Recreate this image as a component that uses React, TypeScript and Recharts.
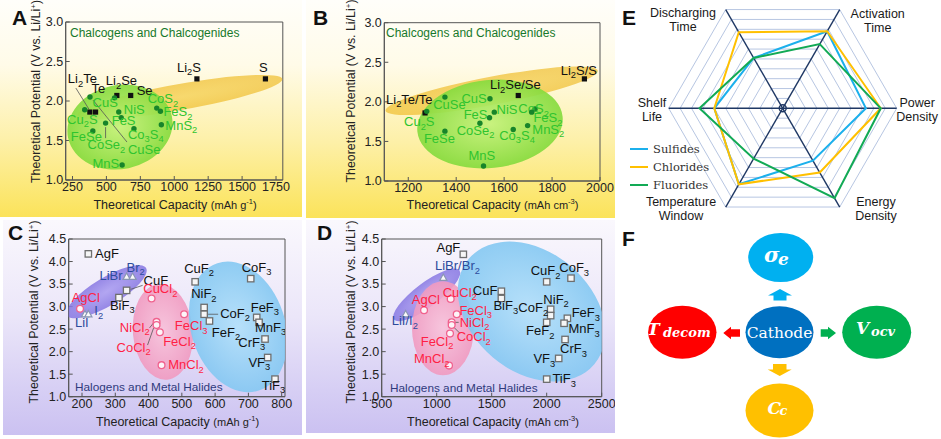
import {
  ScatterChart, Scatter, XAxis, YAxis, ReferenceArea,
  RadarChart, Radar, PolarGrid, PolarAngleAxis, PolarRadiusAxis, Legend,
} from 'recharts'

const SANS = '"Liberation Sans", Arial, sans-serif'
const SERIF = '"DejaVu Serif", serif'

type Pt = { name: string; x: number; y: number }
type Anchor = 'start' | 'middle' | 'end'
type LabelPos = Record<string, [number, number, Anchor?]>
type Leaders = Record<string, [number, number, number, number]>

// ---------- A: chalcogens, gravimetric ----------
const aLithium: Pt[] = [
  { name: 'Li2Te', x: 378, y: 1.86 }, { name: 'Te', x: 420, y: 1.86 },
  { name: 'Li2Se', x: 577, y: 2.07 }, { name: 'Se', x: 679, y: 2.07 },
  { name: 'Li2S', x: 1167, y: 2.28 }, { name: 'S', x: 1672, y: 2.28 },
]
const aSulfides: Pt[] = [
  { name: 'CuSe', x: 379, y: 2.05 }, { name: 'Cu2S', x: 340, y: 1.89 },
  { name: 'CuS', x: 560, y: 2.04 }, { name: 'NiS', x: 591, y: 1.86 },
  { name: 'FeS', x: 609, y: 1.79 }, { name: 'CoSe2', x: 494, y: 1.72 },
  { name: 'FeSe', x: 400, y: 1.62 }, { name: 'Co3S4', x: 703, y: 1.65 },
  { name: 'CoS2', x: 871, y: 1.91 }, { name: 'FeS2', x: 898, y: 1.87 },
  { name: 'MnS2', x: 905, y: 1.7 }, { name: 'MnS', x: 616, y: 1.19 },
]
const aTicks = [250, 500, 750, 1000, 1250, 1500, 1750]
const potTicksLow = [1, 1.5, 2, 2.5, 3]

// ---------- B: chalcogens, volumetric ----------
const bLithium: Pt[] = [
  { name: 'Li2Te/Te', x: 1270, y: 1.86 },
  { name: 'Li2Se/Se', x: 1659, y: 2.08 },
  { name: 'Li2S/S', x: 1935, y: 2.29 },
]
const bSulfides: Pt[] = [
  { name: 'Cu2S', x: 1277, y: 1.88 }, { name: 'CuSe', x: 1353, y: 2.06 },
  { name: 'FeSe', x: 1353, y: 1.63 }, { name: 'CuS', x: 1541, y: 2.04 },
  { name: 'FeS', x: 1539, y: 1.8 }, { name: 'NiS', x: 1559, y: 1.87 },
  { name: 'CoSe2', x: 1499, y: 1.73 }, { name: 'MnS', x: 1514, y: 1.19 },
  { name: 'Co3S4', x: 1638, y: 1.65 }, { name: 'CoS2', x: 1729, y: 1.91 },
  { name: 'FeS2', x: 1715, y: 1.87 }, { name: 'MnS2', x: 1698, y: 1.7 },
]
const bTicks = [1200, 1400, 1600, 1800, 2000]

// ---------- C: halides, gravimetric ----------
const cFluorides: Pt[] = [
  { name: 'AgF', x: 219, y: 4.17 }, { name: 'CuF', x: 334, y: 3.36 },
  { name: 'BiF3', x: 311, y: 3.2 }, { name: 'CuF2', x: 540, y: 3.55 },
  { name: 'NiF2', x: 567, y: 2.98 }, { name: 'CoF2', x: 567, y: 2.83 },
  { name: 'FeF2', x: 583, y: 2.68 }, { name: 'CoF3', x: 707, y: 3.62 },
  { name: 'FeF3', x: 725, y: 2.76 }, { name: 'MnF3', x: 732, y: 2.65 },
  { name: 'CrF3', x: 750, y: 2.28 }, { name: 'VF3', x: 758, y: 1.87 },
  { name: 'TiF3', x: 780, y: 1.39 },
]
const cHalogens: Pt[] = [
  { name: 'LiBr', x: 334, y: 3.66 }, { name: 'Br2', x: 352, y: 3.66 },
  { name: 'LiI', x: 209, y: 2.83 }, { name: 'I2', x: 219, y: 2.83 },
]
const cChlorides: Pt[] = [
  { name: 'AgCl', x: 194, y: 2.95 }, { name: 'CuCl2', x: 409, y: 3.18 },
  { name: 'NiCl2', x: 424, y: 2.66 }, { name: 'CoCl2', x: 424, y: 2.59 },
  { name: 'FeCl2', x: 434, y: 2.43 }, { name: 'FeCl3', x: 507, y: 2.83 },
  { name: 'MnCl2', x: 439, y: 1.7 },
]
const cTicks = [200, 300, 400, 500, 600, 700, 800]
const potTicksHigh = [1, 1.5, 2, 2.5, 3, 3.5, 4, 4.5]

// ---------- D: halides, volumetric ----------
const dFluorides: Pt[] = [
  { name: 'AgF', x: 1242, y: 4.16 }, { name: 'CuF', x: 1588, y: 3.34 },
  { name: 'BiF3', x: 1588, y: 3.18 }, { name: 'CuF2', x: 2000, y: 3.55 },
  { name: 'CoF3', x: 2221, y: 3.63 }, { name: 'NiF2', x: 2036, y: 2.94 },
  { name: 'CoF2', x: 2036, y: 2.8 }, { name: 'FeF2', x: 2000, y: 2.65 },
  { name: 'FeF3', x: 2188, y: 2.74 }, { name: 'MnF3', x: 2158, y: 2.63 },
  { name: 'CrF3', x: 2167, y: 2.27 }, { name: 'VF3', x: 2109, y: 1.85 },
  { name: 'TiF3', x: 2000, y: 1.39 },
]
const dHalogens: Pt[] = [
  { name: 'LiBr/Br2', x: 1060, y: 3.64 }, { name: 'LiI/I2', x: 718, y: 2.83 },
]
const dChlorides: Pt[] = [
  { name: 'AgCl', x: 885, y: 2.92 }, { name: 'CuCl2', x: 1127, y: 3.17 },
  { name: 'FeCl3', x: 1182, y: 2.83 }, { name: 'NiCl2', x: 1136, y: 2.65 },
  { name: 'CoCl2', x: 1136, y: 2.59 }, { name: 'FeCl2', x: 1121, y: 2.4 },
  { name: 'MnCl2', x: 1112, y: 1.69 },
]
const dTicks = [500, 1000, 1500, 2000, 2500]

// ---------- E: radar ----------
const radarAxes = ['Activation Time', 'Power Density', 'Energy Density', 'Temperature Window', 'Shelf Life', 'Discharging Time']
const sulfideScores = [7.8, 7.3, 5.3, 7.7, 6.0, 5.1]
const chlorideScores = [7.8, 8.6, 6.5, 7.7, 6.0, 7.7]
const fluorideScores = [6.5, 8.6, 9.1, 5.1, 7.3, 5.1]

const radarData = radarAxes.map((axis, i) => ({
  axis, sulfides: sulfideScores[i], chlorides: chlorideScores[i], fluorides: fluorideScores[i],
}))

// label placement (px offsets from the point)
const aLabels: LabelPos = {
  Li2Te: [-22, -29], Te: [-4, -19], Li2Se: [-11, -10], Se: [6, 0], Li2S: [-8, -7, 'middle'], S: [-2, -7, 'middle'],
  CuS: [-22, 9], Cu2S: [-17.6, 14], NiS: [5, 2], FeS: [-9.5, 7.4], FeSe: [-22, 10], CoSe2: [-18, 26],
  CuSe: [38, 57], Co3S4: [-6, 10], CoS2: [-9, -5], FeS2: [3, 5], MnS2: [4, 5], MnS: [-3, 3, 'end'],
}
const aLeaders: Leaders = { CuSe: [37, 45, 3, 3], CoSe2: [0, 4, 0, 15], Li2Te: [-14, -24, -1, -3] }
const bLabels: LabelPos = {
  'Li2Te/Te': [-39, -9.3], 'Li2Se/Se': [-28.3, -6.3], 'Li2S/S': [-23.7, -4],
  Cu2S: [-22.7, 15], CuSe: [-11.7, 12], FeSe: [-21, 12.3], CuS: [-3.3, 4, 'end'], FeS: [-2, 1, 'end'],
  NiS: [2.3, 1.7], CoSe2: [-23.3, 11.7], MnS: [-15, -6.3], Co3S4: [-14, 10], CoS2: [-16.7, 4.3],
  FeS2: [1.7, 10.3], MnS2: [4.7, 8.3],
}
const cLabels: LabelPos = {
  AgF: [6.7, 4.3], CuF: [17, -5.3], BiF3: [-9, 12.3], CuF2: [-11, -9.3], CoF3: [-9, -6.7], NiF2: [-13, -9],
  CoF2: [16, 3.3], FeF2: [2.3, 15.7], FeF3: [-6, -5.7], MnF3: [-4, 9.3], CrF3: [-26.7, 7.7], VF3: [-19.3, 9.3],
  TiF3: [-13.3, 10.7],
  LiBr: [-4, 3, 'end'], Br2: [-6, -5.3], LiI: [-10, 12.7], I2: [6, 1],
  AgCl: [-8.3, -6.7], CuCl2: [-8.3, -5], NiCl2: [-36.7, 10], CoCl2: [-40, 26.7], FeCl2: [3.3, 13.3],
  FeCl3: [-9.3, 16], MnCl2: [6.7, 4],
}
const cLeaders: Leaders = { CuF: [4, -1, 16, -5], NiCl2: [-7, 6, -3, 1], CoCl2: [-9, 20, -3, 3], CoF2: [4, 0, 14, 0] }
const dLabels: LabelPos = {
  AgF: [-3, -2.7, 'end'], CuF: [-4, 4, 'end'], BiF3: [-8, 11.7], CuF2: [-16, -6.7], CoF3: [-11.7, -6],
  NiF2: [-7.3, -5.7], CoF2: [-32.3, -3.3], FeF2: [-20.7, 12.7], FeF3: [4.3, -1], MnF3: [4.3, 10],
  CrF3: [-5, 14], VF3: [-25.3, 5], TiF3: [5.7, 4.3],
  'LiBr/Br2': [-8.3, -7.7], 'LiI/I2': [-14, 11],
  AgCl: [-12.3, -5.7], CuCl2: [-8, -2.3], FeCl3: [2.7, 0.3], NiCl2: [8, 4.3], CoCl2: [5, 16],
  FeCl2: [-29.3, 12.3], MnCl2: [-35, -2.3],
}
const dLeaders: Leaders = { NiCl2: [3, 0, 7, 0], CoCl2: [2, 2, 8, 8] }

// chemical formula with subscript digits
function Chem({ x, y, text, fill, size = 13, anchor = 'start' }: { x: number; y: number; text: string; fill: string; size?: number; anchor?: Anchor }) {
  const parts = text.split(/(\d+)/).filter(Boolean)
  let shift = 0
  return (
    <text x={x} y={y} fill={fill} fontSize={size} textAnchor={anchor} fontFamily={SANS}>
      {parts.map((p, i) => {
        const sub = /^\d+$/.test(p)
        const target = sub ? 3.5 : 0
        const dy = target - shift
        shift = target
        return (
          <tspan key={i} dy={dy} fontSize={sub ? size * 0.72 : size}>{p}</tspan>
        )
      })}
    </text>
  )
}

type Marker = 'square' | 'dot' | 'openSquare' | 'triangle' | 'circle'

function makeShape(marker: Marker, labels: LabelPos, labelColor: string, leaders: Leaders = {}) {
  return (props: any) => {
    const { cx, cy, payload } = props
    const [dx, dy, anchor] = labels[payload.name] ?? [5, 4]
    const ld = leaders[payload.name]
    let mk
    if (marker === 'square') mk = <rect x={cx - 2.6} y={cy - 2.6} width={5.2} height={5.2} fill="#111" />
    else if (marker === 'dot') mk = <circle cx={cx} cy={cy} r={2.7} fill="#17852a" />
    else if (marker === 'openSquare') mk = <rect x={cx - 3.2} y={cy - 3.2} width={6.4} height={6.4} fill="#f6f6f6" stroke="#6e6e6e" strokeWidth={1.3} />
    else if (marker === 'triangle') mk = <polygon points={`${cx},${cy - 3.8} ${cx + 3.6},${cy + 2.6} ${cx - 3.6},${cy + 2.6}`} fill="#fafafa" stroke="#8a96b4" strokeWidth={1.2} />
    else mk = <circle cx={cx} cy={cy} r={3.4} fill="#fdf4f8" stroke="#f0628e" strokeWidth={1.3} />
    return (
      <g>
        {ld && <line x1={cx + ld[0]} y1={cy + ld[1]} x2={cx + ld[2]} y2={cy + ld[3]} stroke="#555" strokeWidth={0.8} />}
        {mk}
        <Chem x={cx + dx} y={cy + dy} text={payload.name} fill={labelColor} anchor={anchor ?? 'start'} />
      </g>
    )
  }
}

type Blob = { x: number; y: number; rx: number; ry: number; rot: number; inner: string; outer: string; opacity: number }

function blobShape(b: Blob, id: string) {
  return (props: any) => {
    const { cx, cy } = props
    return (
      <g>
        <defs>
          <radialGradient id={id}>
            <stop offset="0%" stopColor={b.inner} />
            <stop offset="100%" stopColor={b.outer} />
          </radialGradient>
        </defs>
        <ellipse cx={cx} cy={cy} rx={b.rx} ry={b.ry} fill={`url(#${id})`} opacity={b.opacity}
          transform={`rotate(${b.rot} ${cx} ${cy})`} />
      </g>
    )
  }
}

type SeriesDef = { data: Pt[]; marker: Marker; color: string; labels: LabelPos; leaders?: Leaders }

type PanelCfg = {
  id: string; left: number; top: number; w: number; h: number; bg: string
  plot: { left: number; right: number; top: number; bottom: number }
  xDomain: [number, number]; xTicks: number[]; yDomain: [number, number]; yTicks: number[]
  blobs: Blob[]; series: SeriesDef[]
}

const yellowBg = 'linear-gradient(to bottom, #fffefa 0%, #fffbe8 30%, #fdf0a8 65%, #fbe35a 100%)'
const lilacBg = 'linear-gradient(to bottom, #faf8fd 0%, #ebe6f9 45%, #d6cef4 80%, #cbc1f1 100%)'

const panels: PanelCfg[] = [
  {
    id: 'a', left: 0, top: 0, w: 302, h: 217, bg: yellowBg,
    plot: { left: 65.7, right: 282.8, top: 22, bottom: 180 },
    xDomain: [200, 1800], xTicks: aTicks, yDomain: [1, 3], yTicks: potTicksLow,
    blobs: [
      { x: 1042, y: 2.05, rx: 104, ry: 13, rot: -10, inner: '#f4cc45', outer: '#efbd2c', opacity: 0.7 },
      { x: 600, y: 1.67, rx: 53, ry: 42, rot: -12, inner: '#c4f27a', outer: '#86db3e', opacity: 0.92 },
    ],
    series: [
      { data: aLithium, marker: 'square', color: '#111', labels: aLabels, leaders: aLeaders },
      { data: aSulfides, marker: 'dot', color: '#2fc42f', labels: aLabels, leaders: aLeaders },
    ],
  },
  {
    id: 'b', left: 306, top: 0, w: 309, h: 218, bg: yellowBg,
    plot: { left: 78.3, right: 294, top: 22.7, bottom: 181 },
    xDomain: [1100, 2000], xTicks: bTicks, yDomain: [1, 3], yTicks: potTicksLow,
    blobs: [
      { x: 1548, y: 2.14, rx: 108, ry: 14, rot: -10.7, inner: '#f4cc45', outer: '#efbd2c', opacity: 0.7 },
      { x: 1541, y: 1.72, rx: 73, ry: 44, rot: -6, inner: '#c4f27a', outer: '#86db3e', opacity: 0.92 },
    ],
    series: [
      { data: bLithium, marker: 'square', color: '#111', labels: bLabels },
      { data: bSulfides, marker: 'dot', color: '#2fc42f', labels: bLabels },
    ],
  },
  {
    id: 'c', left: 3, top: 220, w: 299, h: 215, bg: lilacBg,
    plot: { left: 65.7, right: 282, top: 19, bottom: 176.7 },
    xDomain: [160, 810], xTicks: cTicks, yDomain: [1, 4.5], yTicks: potTicksHigh,
    blobs: [
      { x: 274, y: 3.33, rx: 46, ry: 14, rot: -31, inner: '#a89af0', outer: '#8676e2', opacity: 0.85 },
      { x: 443, y: 2.44, rx: 30, ry: 48, rot: -5, inner: '#f8c2da', outer: '#f19ac0', opacity: 0.9 },
      { x: 669, y: 2.55, rx: 47, ry: 67, rot: -18, inner: '#b2e0fa', outer: '#84c8f2', opacity: 0.9 },
    ],
    series: [
      { data: cFluorides, marker: 'openSquare', color: '#111', labels: cLabels, leaders: cLeaders },
      { data: cHalogens, marker: 'triangle', color: '#2d4b9c', labels: cLabels },
      { data: cChlorides, marker: 'circle', color: '#ff1f45', labels: cLabels, leaders: cLeaders },
    ],
  },
  {
    id: 'd', left: 306, top: 220, w: 309, h: 213, bg: lilacBg,
    plot: { left: 75.7, right: 295.7, top: 19, bottom: 176.7 },
    xDomain: [500, 2500], xTicks: dTicks, yDomain: [1, 4.5], yTicks: potTicksHigh,
    blobs: [
      { x: 909, y: 3.26, rx: 41, ry: 12, rot: -37, inner: '#a89af0', outer: '#8676e2', opacity: 0.85 },
      { x: 1057, y: 2.52, rx: 31, ry: 47, rot: 0, inner: '#f8c2da', outer: '#f19ac0', opacity: 0.9 },
      { x: 1862, y: 2.89, rx: 82, ry: 60, rot: 40, inner: '#b2e0fa', outer: '#84c8f2', opacity: 0.9 },
    ],
    series: [
      { data: dFluorides, marker: 'openSquare', color: '#111', labels: dLabels },
      { data: dHalogens, marker: 'triangle', color: '#2d4b9c', labels: dLabels },
      { data: dChlorides, marker: 'circle', color: '#ff1f45', labels: dLabels, leaders: dLeaders },
    ],
  },
]

const tickStyle = { fill: '#222', fontSize: 12.5, fontFamily: SANS }

function ScatterPanel({ cfg }: { cfg: PanelCfg }) {
  const { plot } = cfg
  return (
    <div style={{ position: 'absolute', left: cfg.left, top: cfg.top, width: cfg.w, height: cfg.h, background: cfg.bg }}>
      <ScatterChart width={cfg.w} height={cfg.h} margin={{ top: plot.top, right: cfg.w - plot.right, left: 0, bottom: 0 }}>
        <XAxis type="number" dataKey="x" domain={cfg.xDomain} ticks={cfg.xTicks} allowDataOverflow interval={0}
          height={cfg.h - plot.bottom} tickSize={-4} tickMargin={6.5} stroke="#555" tick={tickStyle} />
        <YAxis type="number" dataKey="y" domain={cfg.yDomain} ticks={cfg.yTicks} allowDataOverflow interval={0}
          width={plot.left} tickSize={-4} tickMargin={6.5} stroke="#555" tick={tickStyle}
          tickFormatter={(v: number) => v.toFixed(1)} />
        {cfg.blobs.map((b, i) => (
          <Scatter key={`blob-${i}`} data={[{ x: b.x, y: b.y }]} shape={blobShape(b, `${cfg.id}-g${i}`)} isAnimationActive={false} />
        ))}
        <ReferenceArea x1={cfg.xDomain[0]} x2={cfg.xDomain[1]} y1={cfg.yDomain[0]} y2={cfg.yDomain[1]}
          fill="none" fillOpacity={0} stroke="#555" strokeWidth={1} />
        {cfg.series.map((s, i) => (
          <Scatter key={`s-${i}`} data={s.data} shape={makeShape(s.marker, s.labels, s.color, s.leaders)} isAnimationActive={false} />
        ))}
      </ScatterChart>
    </div>
  )
}

const tickOffsets: Record<string, [number, number]> = {
  'Activation Time': [34, 15.4],
  'Power Density': [12.5, -1.8],
  'Energy Density': [32.3, -8],
  'Temperature Window': [-40.7, -8],
  'Shelf Life': [-8.7, -1.6],
  'Discharging Time': [-38.7, 14.7],
}

function AngleTick(props: any) {
  const { x, y, payload } = props
  const label: string = payload.value
  const [dx, dy] = tickOffsets[label] ?? [0, 0]
  const words = label.split(' ')
  return (
    <text x={x + dx} y={y + dy} textAnchor="middle" fontSize={12.5} fontFamily={SANS} fill="#1a1a1a">
      {words.map((w, i) => (
        <tspan key={i} x={x + dx} dy={i === 0 ? 0 : 14}>{w}</tspan>
      ))}
    </text>
  )
}

const radarSeries = [
  { key: 'sulfides', name: 'Sulfides', color: '#1cb0ec' },
  { key: 'chlorides', name: 'Chlorides', color: '#ffc000' },
  { key: 'fluorides', name: 'Fluorides', color: '#12aa55' },
]

function RadarLegend() {
  return (
    <svg width={90} height={60}>
      {radarSeries.map((s, i) => (
        <g key={s.key}>
          <line x1={0} x2={18} y1={6 + i * 18} y2={6 + i * 18} stroke={s.color} strokeWidth={2} />
          <text x={23} y={10 + i * 18} fontSize={11.5} fontFamily={SERIF} fill="#333">{s.name}</text>
        </g>
      ))}
    </svg>
  )
}

const rings = Array.from({ length: 10 }, (_, i) => (i + 1) * 11.4)

function RadarPanel() {
  return (
    <div style={{ position: 'absolute', left: 610, top: 0, width: 331, height: 226 }}>
      <RadarChart width={331} height={226} cx={172.7} cy={108.3} outerRadius={114} startAngle={60} endAngle={-300}
        data={radarData} margin={{ top: 0, right: 0, bottom: 0, left: 0 }}>
        <PolarGrid gridType="polygon" radialLines={false} polarRadius={rings} stroke="#b7c6e2" strokeWidth={1} />
        <PolarGrid gridType="circle" polarRadius={[3.5]} stroke="#1f3864" strokeWidth={1.4} />
        <PolarAngleAxis dataKey="axis" tick={AngleTick} tickLine={false} axisLine={false} />
        <PolarRadiusAxis domain={[0, 10]} tickCount={11} tick={false} axisLine={false} />
        {radarSeries.map((s) => (
          <Radar key={s.key} dataKey={s.key} name={s.name} stroke={s.color} strokeWidth={2} fill="none" fillOpacity={0}
            dot={false} isAnimationActive={false} />
        ))}
        <Legend content={() => <RadarLegend />} wrapperStyle={{ left: 20, top: 143, width: 90 }} />
      </RadarChart>
    </div>
  )
}

function Overlay() {
  const yTitle = (x: number, y: number) => (
    <text x={x} y={y} transform={`rotate(-90 ${x} ${y})`} textAnchor="middle" fontSize={12.4} fontFamily={SANS} fill="#222">
      Theoretical Potential (V vs. Li/Li<tspan dy={-4} fontSize={8}>+</tspan><tspan dy={4}>)</tspan>
    </text>
  )
  const xTitle = (x: number, y: number, unit: string, exp: string) => (
    <text x={x} y={y} textAnchor="middle" fontSize={12.5} fontFamily={SANS} fill="#222">
      Theoretical Capacity <tspan fontSize={11}>({unit}</tspan><tspan fontSize={7.5} dy={-5}>{exp}</tspan><tspan fontSize={11} dy={5}>)</tspan>
    </text>
  )
  const letter = (x: number, y: number, t: string) => (
    <text x={x} y={y} fontSize={21} fontWeight="bold" fontFamily={SANS} fill="#111">{t}</text>
  )
  return (
    <svg width={941} height={439} style={{ position: 'absolute', left: 0, top: 0, pointerEvents: 'none' }}>
      {letter(12, 25, 'A')}{letter(313, 25, 'B')}{letter(8, 240, 'C')}{letter(317, 240, 'D')}
      {letter(622, 25, 'E')}{letter(622, 246, 'F')}
      {yTitle(39.5, 91.5)}{yTitle(354.5, 91)}{yTitle(38, 312)}{yTitle(354.5, 312)}
      {xTitle(175, 208.5, 'mAh g', '-1')}{xTitle(492.5, 208.5, 'mAh cm', '-3')}
      {xTitle(177.5, 425.5, 'mAh g', '-1')}{xTitle(493, 425.5, 'mAh cm', '-3')}
      <text x={70} y={37.3} fontSize={12} fontFamily={SANS} fill="#17792b">Chalcogens and Chalcogenides</text>
      <text x={386} y={37.3} fontSize={12} fontFamily={SANS} fill="#17792b">Chalcogens and Chalcogenides</text>
      <text x={75} y={390.7} fontSize={11.8} fontFamily={SANS} fill="#2f3a7c">Halogens and Metal Halides</text>
      <text x={390} y={391.7} fontSize={11.8} fontFamily={SANS} fill="#2f3a7c">Halogens and Metal Halides</text>

      {/* F: cathode descriptors */}
      <ellipse cx={780.7} cy={257.5} rx={32.5} ry={24.5} fill="#00b0f0" />
      <ellipse cx={779.5} cy={332.3} rx={34} ry={26} fill="#0070c0" />
      <ellipse cx={682.3} cy={332.3} rx={34.2} ry={26.5} fill="#ff0000" />
      <ellipse cx={876.7} cy={332.3} rx={34.5} ry={26.5} fill="#00b050" />
      <ellipse cx={779.5} cy={410.5} rx={34} ry={27} fill="#ffc000" />
      <polygon points="780,289 792,295.5 786.5,295.5 786.5,300.5 773.5,300.5 773.5,295.5 768,295.5" fill="#00b0f0" />
      <polygon points="723.3,333 731,326.7 731,329.3 740,329.3 740,336.7 731,336.7 731,339.3" fill="#ff0000" />
      <polygon points="836,333 828,326.7 828,329.3 820.7,329.3 820.7,336.7 828,336.7 828,339.3" fill="#00b050" />
      <polygon points="779.7,376 791.7,369.5 786.5,369.5 786.5,364 773,364 773,369.5 767.7,369.5" fill="#ffc000" />
      <text x={779.5} y={338} textAnchor="middle" fontSize={15.5} fontFamily={SERIF} fill="#fff">Cathode</text>
      <text x={764} y={262} fontSize={21} fontFamily={SERIF} fontStyle="italic" fontWeight="bold" fill="#fff">σ</text>
      <text x={778} y={264.5} fontSize={17} fontFamily={SERIF} fontStyle="italic" fontWeight="bold" fill="#fff">e</text>
      <text x={647} y={335} fontSize={17} fontFamily={SERIF} fontStyle="italic" fontWeight="bold" fill="#fff">T</text>
      <text x={663} y={337} fontSize={13} fontFamily={SERIF} fontStyle="italic" fontWeight="bold" fill="#fff">decom</text>
      <text x={856} y={333.5} fontSize={17} fontFamily={SERIF} fontStyle="italic" fontWeight="bold" fill="#fff">V</text>
      <text x={871} y={336} fontSize={13} fontFamily={SERIF} fontStyle="italic" fontWeight="bold" fill="#fff">ocv</text>
      <text x={767.5} y={413.5} fontSize={17} fontFamily={SERIF} fontStyle="italic" fontWeight="bold" fill="#fff">C</text>
      <text x={779.5} y={415} fontSize={13} fontFamily={SERIF} fontStyle="italic" fontWeight="bold" fill="#fff">c</text>
    </svg>
  )
}

export default function App() {
  return (
    <div style={{ position: 'absolute', left: 0, top: 0, width: 941, height: 439, background: '#fff', overflow: 'hidden', fontFamily: SANS }}>
      {panels.map((p) => <ScatterPanel key={p.id} cfg={p} />)}
      <RadarPanel />
      <Overlay />
    </div>
  )
}
